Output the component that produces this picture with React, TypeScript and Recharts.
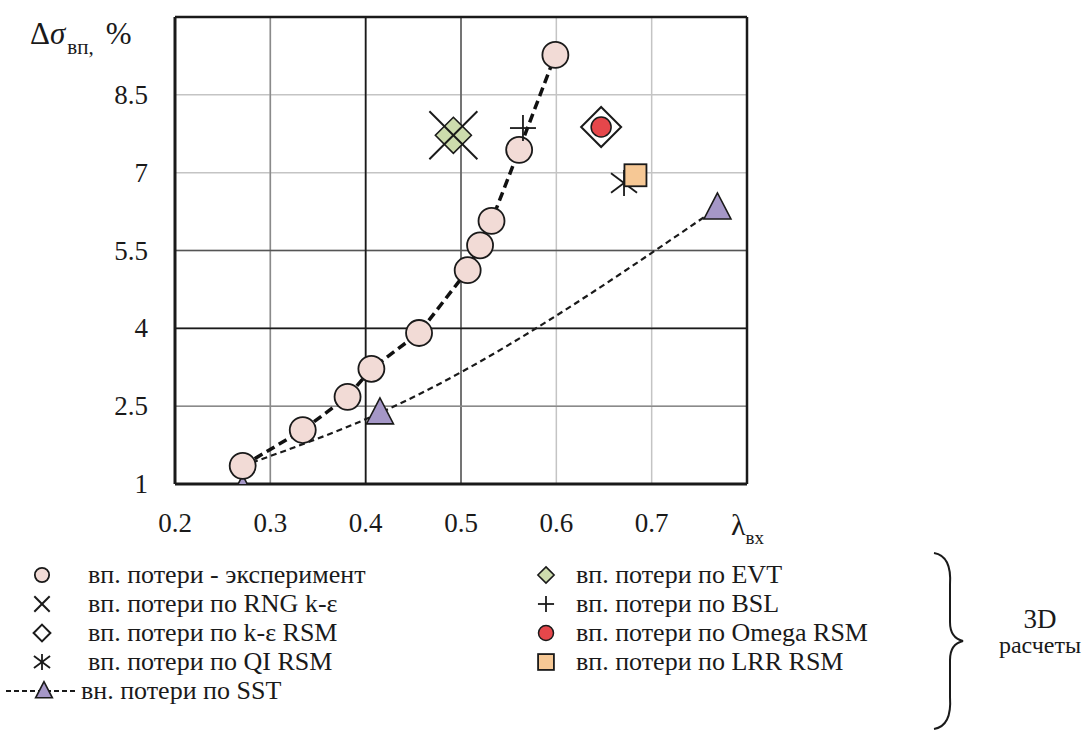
import React from 'react';
import {
  ComposedChart,
  XAxis,
  YAxis,
  CartesianGrid,
  ReferenceLine,
  Scatter,
  Line,
} from 'recharts';

// experiment (вп. потери - эксперимент)
const expX = [0.271, 0.334, 0.381, 0.406, 0.456, 0.507, 0.52, 0.532, 0.561, 0.599];
const expY = [1.35, 2.04, 2.68, 3.22, 3.91, 5.12, 5.6, 6.07, 7.44, 9.27];

// SST markers and its dashed curve (curve starts at the first experiment point)
const sstX = [0.271, 0.415, 0.769];
const sstY = [0.88, 2.37, 6.32];
const sstLineY = [1.35, 2.37, 6.32];

// single 3D results
const rngPt = [{ x: 0.492, y: 7.72 }];
const evtPt = [{ x: 0.492, y: 7.72 }];
const bslPt = [{ x: 0.565, y: 7.86 }];
const keRsmPt = [{ x: 0.647, y: 7.88 }];
const omegaPt = [{ x: 0.647, y: 7.88 }];
const qiPt = [{ x: 0.671, y: 6.8 }];
const lrrPt = [{ x: 0.683, y: 6.95 }];

const xTicks = [0.2, 0.3, 0.4, 0.5, 0.6, 0.7, 0.8];
const yTicks = [1, 2.5, 4, 5.5, 7, 8.5, 10];

const legendLeft = [
  { key: 'exp', label: 'вп. потери - эксперимент' },
  { key: 'rng', label: 'вп. потери по RNG k-ε' },
  { key: 'kersm', label: 'вп. потери по k-ε RSM' },
  { key: 'qi', label: 'вп. потери по QI RSM' },
  { key: 'sst', label: 'вн. потери по SST' },
];
const legendRight = [
  { key: 'evt', label: 'вп. потери по EVT' },
  { key: 'bsl', label: 'вп. потери по BSL' },
  { key: 'omega', label: 'вп. потери по Omega RSM' },
  { key: 'lrr', label: 'вп. потери по LRR RSM' },
];

const pts = (xs: number[], ys: number[]) => xs.map((x, i) => ({ x, y: ys[i] }));

const FONT =
  "'Liberation Serif', 'Times New Roman', Times, Tinos, 'Noto Serif', 'DejaVu Serif', FreeSerif, serif";
const INK = '#1a1a1a';
const PINK = '#f2dbd6';
const GREEN = '#cddcad';
const RED = '#e5474b';
const ORANGE = '#f6c895';
const PURPLE = '#a597c7';

// marker drawings, s = scale
const drawMarker = (key: string, cx: number, cy: number, s = 1) => {
  switch (key) {
    case 'exp':
      return <circle cx={cx} cy={cy} r={13 * s} fill={PINK} stroke={INK} strokeWidth={1.8} />;
    case 'sst':
      return (
        <polygon
          points={`${cx},${cy - 15 * s} ${cx - 13.5 * s},${cy + 11 * s} ${cx + 13.5 * s},${cy + 11 * s}`}
          fill={PURPLE}
          stroke={INK}
          strokeWidth={1.6}
        />
      );
    case 'rng': {
      const h = 24 * s;
      return (
        <g stroke={INK} strokeWidth={2}>
          <line x1={cx - h} y1={cy - h} x2={cx + h} y2={cy + h} />
          <line x1={cx - h} y1={cy + h} x2={cx + h} y2={cy - h} />
        </g>
      );
    }
    case 'evt': {
      const h = 18 * s;
      return (
        <polygon
          points={`${cx},${cy - h} ${cx + h},${cy} ${cx},${cy + h} ${cx - h},${cy}`}
          fill={GREEN}
          stroke={INK}
          strokeWidth={1.6}
        />
      );
    }
    case 'kersm': {
      const h = 20 * s;
      return (
        <polygon
          points={`${cx},${cy - h} ${cx + h},${cy} ${cx},${cy + h} ${cx - h},${cy}`}
          fill="#fff"
          stroke={INK}
          strokeWidth={2}
        />
      );
    }
    case 'bsl': {
      const h = 13 * s;
      return (
        <g stroke={INK} strokeWidth={1.8}>
          <line x1={cx - h} y1={cy} x2={cx + h} y2={cy} />
          <line x1={cx} y1={cy - h} x2={cx} y2={cy + h} />
        </g>
      );
    }
    case 'omega':
      return <circle cx={cx} cy={cy} r={10 * s} fill={RED} stroke={INK} strokeWidth={1.5} />;
    case 'qi': {
      const h = 13 * s;
      return (
        <g stroke={INK} strokeWidth={1.8}>
          <line x1={cx} y1={cy - h} x2={cx} y2={cy + h} />
          <line x1={cx - h} y1={cy - h * 0.75} x2={cx + h} y2={cy + h * 0.75} />
          <line x1={cx - h} y1={cy + h * 0.75} x2={cx + h} y2={cy - h * 0.75} />
        </g>
      );
    }
    case 'lrr': {
      const h = 11 * s;
      return (
        <rect x={cx - h} y={cy - h} width={2 * h} height={2 * h} fill={ORANGE} stroke={INK} strokeWidth={1.8} />
      );
    }
    default:
      return null;
  }
};

// legend marker scale per series
const legendScale: Record<string, number> = {
  exp: 0.55,
  rng: 0.32,
  kersm: 0.42,
  qi: 0.62,
  sst: 0.62,
  evt: 0.45,
  bsl: 0.62,
  omega: 0.75,
  lrr: 0.72,
};

const shape = (key: string) => (p: any) => drawMarker(key, p.cx, p.cy);

const XTick = ({ x, y, payload }: any) => {
  if (payload.value === 0.8) {
    return (
      <text x={x - 16} y={y + 51} fontFamily={FONT} fontSize={30} fill={INK}>
        λ
        <tspan dy={9} fontSize={19}>
          вх
        </tspan>
      </text>
    );
  }
  return (
    <text x={x} y={y + 48} textAnchor="middle" fontFamily={FONT} fontSize={27} fill={INK}>
      {payload.value}
    </text>
  );
};

const YTick = ({ x, y, payload }: any) => {
  if (payload.value === 10) return null;
  return (
    <text x={x - 27} y={y + 9} textAnchor="end" fontFamily={FONT} fontSize={27} fill={INK}>
      {payload.value}
    </text>
  );
};

const rowsY = [575, 604, 633, 662, 691];

const Legend = () => (
  <svg
    width={1088}
    height={731}
    fontFamily={FONT}
    style={{ position: 'absolute', left: 0, top: 0, pointerEvents: 'none' }}
  >
    {/* y axis title */}
    <text x={30} y={44} fontSize={31} fill={INK}>
      Δ<tspan fontStyle="italic">σ</tspan>
      <tspan fontSize={21} dy={10} dx={2}>
        вп,
      </tspan>
      <tspan dy={-10} dx={12}>
        %
      </tspan>
    </text>
    {legendLeft.map((it, i) => (
      <g key={it.key}>
        {it.key === 'sst' && (
          <line x1={6} x2={78} y1={rowsY[i]} y2={rowsY[i]} stroke={INK} strokeWidth={2} strokeDasharray="5 3" />
        )}
        {drawMarker(it.key, it.key === 'sst' ? 44 : 42, rowsY[i], legendScale[it.key])}
        <text x={it.key === 'sst' ? 81 : 88} y={rowsY[i] + 8} fontSize={26} fill={INK}>
          {it.label}
        </text>
      </g>
    ))}
    {legendRight.map((it, i) => (
      <g key={it.key}>
        {drawMarker(it.key, 546, rowsY[i], legendScale[it.key])}
        <text x={576} y={rowsY[i] + 8} fontSize={26} fill={INK}>
          {it.label}
        </text>
      </g>
    ))}
    {/* brace */}
    <path
      d="M 934 553 Q 952 556 950 585 L 950 622 Q 950 638 963 641 Q 950 644 950 660 L 950 697 Q 952 726 934 729"
      fill="none"
      stroke={INK}
      strokeWidth={2}
    />
    <text x={1040} y={628} textAnchor="middle" fontSize={27} fill={INK}>
      3D
    </text>
    <text x={1040} y={653} textAnchor="middle" fontSize={24} fill={INK}>
      расчеты
    </text>
  </svg>
);

export default function App() {
  const expData = pts(expX, expY);
  const sstData = pts(sstX, sstY);
  const sstLine = pts(sstX, sstLineY);

  return (
    <div
      style={{
        position: 'absolute',
        left: 0,
        top: 0,
        width: 1088,
        height: 731,
        background: '#fff',
        fontFamily: FONT,
      }}
    >
      <ComposedChart width={1088} height={731} margin={{ top: 17, right: 341, bottom: 217, left: 115 }}>
        <CartesianGrid stroke="#c4c4c4" strokeWidth={1.5} />
        <XAxis
          type="number"
          dataKey="x"
          domain={[0.2, 0.8]}
          ticks={xTicks}
          allowDataOverflow
          height={30}
          tickLine={false}
          tickSize={0}
          tickMargin={0}
          axisLine={{ stroke: INK, strokeWidth: 3 }}
          tick={<XTick />}
          interval={0}
        />
        <YAxis
          type="number"
          dataKey="y"
          domain={[1, 10]}
          ticks={yTicks}
          allowDataOverflow
          width={60}
          tickLine={false}
          tickSize={0}
          tickMargin={0}
          axisLine={{ stroke: INK, strokeWidth: 3 }}
          tick={<YTick />}
          interval={0}
        />
        <ReferenceLine x={0.3} stroke="#8a8a8a" strokeWidth={1.5} />
        <ReferenceLine x={0.5} stroke="#555" strokeWidth={1.5} />
        <ReferenceLine y={2.5} stroke="#8a8a8a" strokeWidth={1.5} />
        <ReferenceLine y={5.5} stroke="#555" strokeWidth={1.5} />
        <ReferenceLine x={0.4} stroke={INK} strokeWidth={1.8} />
        <ReferenceLine y={4} stroke={INK} strokeWidth={1.8} />
        <ReferenceLine y={10} stroke={INK} strokeWidth={2.5} />
        <ReferenceLine x={0.8} stroke={INK} strokeWidth={2.5} />

        <Scatter data={evtPt} shape={shape('evt')} isAnimationActive={false} />
        <Scatter data={rngPt} shape={shape('rng')} isAnimationActive={false} />
        <Scatter data={keRsmPt} shape={shape('kersm')} isAnimationActive={false} />
        <Scatter data={omegaPt} shape={shape('omega')} isAnimationActive={false} />
        <Scatter data={qiPt} shape={shape('qi')} isAnimationActive={false} />
        <Scatter data={lrrPt} shape={shape('lrr')} isAnimationActive={false} />

        <Scatter data={sstData} shape={shape('sst')} isAnimationActive={false} />
        <Line
          data={sstLine}
          dataKey="y"
          type="monotone"
          stroke={INK}
          strokeWidth={2.2}
          strokeDasharray="6 4"
          dot={false}
          isAnimationActive={false}
        />
        <Scatter data={expData} shape={shape('exp')} isAnimationActive={false} />
        <Line
          data={expData}
          dataKey="y"
          type="linear"
          stroke="#111"
          strokeWidth={3.5}
          strokeDasharray="9 5"
          dot={false}
          isAnimationActive={false}
        />
        <Scatter data={bslPt} shape={shape('bsl')} isAnimationActive={false} />
      </ComposedChart>
      <Legend />
    </div>
  );
}
